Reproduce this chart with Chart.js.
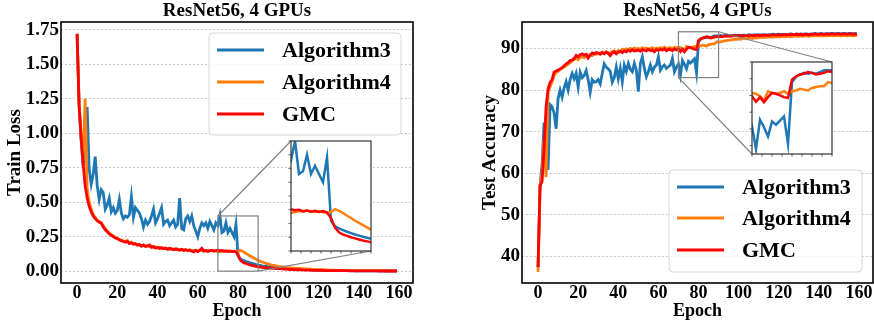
<!DOCTYPE html>
<html>
<head>
<meta charset="utf-8">
<script src="https://cdn.jsdelivr.net/npm/chart.js@4/dist/chart.umd.min.js"></script>
<style>
  html, body { margin: 0; padding: 0; background: #fff; }
  #wrap { position: relative; width: 874px; height: 322px; overflow: hidden; }
  canvas { position: absolute; }
</style>
</head>
<body>
<div id="wrap">
  <canvas id="lossChart" width="437" height="322" style="left:0;top:0"></canvas>
  <canvas id="accChart" width="437" height="322" style="left:437px;top:0"></canvas>
  <canvas id="lossInset" width="92" height="122" style="left:285px;top:135px"></canvas>
  <canvas id="accInset" width="92" height="104" style="left:746px;top:56px"></canvas>
</div>
<script>
const epochs = Array.from({ length: 160 }, (_, i) => i);
const seriesNames = ['Algorithm3', 'Algorithm4', 'GMC'];
const seriesColors = ['#1f77b4', '#ff7f0e', '#ff0000'];

const epochTicks = [0, 20, 40, 60, 80, 100, 120, 140, 160];
const lossTicks = [0, 0.25, 0.5, 0.75, 1.0, 1.25, 1.5, 1.75];
const accTicks = [40, 50, 60, 70, 80, 90];
const insetEpochTicks = [70, 72.5, 75, 77.5, 80, 82.5, 85, 87.5, 90];
const lossInsetTicks = [0, 0.05, 0.1, 0.15, 0.2, 0.25, 0.3, 0.35, 0.4];
const accInsetTicks = [84, 86, 88, 90, 92, 94];

// train loss
const lossAlg3 = [
  1.72, 1.20, 0.95, 0.76, 0.92, 1.19, 0.74, 0.63, 0.70, 0.83,
  0.62, 0.52, 0.59, 0.57, 0.45, 0.48, 0.53, 0.43, 0.46, 0.42,
  0.44, 0.52, 0.42, 0.38, 0.40, 0.39, 0.41, 0.54, 0.39, 0.46,
  0.44, 0.42, 0.38, 0.32, 0.37, 0.34, 0.36, 0.40, 0.45, 0.35,
  0.38, 0.42, 0.46, 0.34, 0.36, 0.37, 0.33, 0.35, 0.37, 0.32,
  0.34, 0.53, 0.31, 0.30, 0.38, 0.40, 0.36, 0.40, 0.33, 0.29,
  0.25, 0.31, 0.35, 0.33, 0.35, 0.31, 0.36, 0.33, 0.30, 0.35,
  0.33, 0.40, 0.28, 0.29, 0.35, 0.28, 0.31, 0.28, 0.25, 0.34,
  0.11, 0.090, 0.082, 0.076, 0.070, 0.065, 0.060, 0.056, 0.052, 0.048,
  0.044, 0.041, 0.038, 0.036, 0.034, 0.032, 0.030, 0.028, 0.027, 0.025,
  0.024, 0.023, 0.022, 0.021, 0.020, 0.019, 0.018, 0.017, 0.016, 0.015,
  0.014, 0.013, 0.013, 0.012, 0.011, 0.011, 0.010, 0.009, 0.009, 0.008,
  0.008, 0.007, 0.007, 0.006, 0.006, 0.005, 0.005, 0.005, 0.004, 0.004,
  0.004, 0.004, 0.003, 0.003, 0.003, 0.003, 0.003, 0.003, 0.002, 0.002,
  0.002, 0.002, 0.002, 0.002, 0.002, 0.002, 0.002, 0.002, 0.002, 0.002,
  0.002, 0.002, 0.002, 0.001, 0.001, 0.001, 0.001, 0.001, 0.001, 0.001
];
const lossAlg4 = [
  1.72, 1.22, 0.98, 0.80, 1.25, 0.60, 0.50, 0.45, 0.41, 0.39,
  0.37, 0.36, 0.345, 0.33, 0.31, 0.29, 0.275, 0.265, 0.255, 0.245,
  0.24, 0.23, 0.225, 0.22, 0.215, 0.222, 0.205, 0.21, 0.20, 0.198,
  0.19, 0.195, 0.185, 0.19, 0.182, 0.186, 0.178, 0.18, 0.172, 0.175,
  0.168, 0.172, 0.165, 0.168, 0.162, 0.165, 0.158, 0.163, 0.16, 0.157,
  0.16, 0.155, 0.158, 0.152, 0.156, 0.15, 0.154, 0.15, 0.148, 0.152,
  0.146, 0.15, 0.148, 0.152, 0.146, 0.15, 0.147, 0.15, 0.145, 0.148,
  0.138, 0.142, 0.145, 0.143, 0.147, 0.144, 0.142, 0.145, 0.141, 0.14,
  0.142, 0.152, 0.146, 0.138, 0.128, 0.12, 0.11, 0.102, 0.094, 0.086,
  0.078, 0.072, 0.066, 0.061, 0.056, 0.052, 0.048, 0.044, 0.041, 0.038,
  0.035, 0.033, 0.031, 0.029, 0.027, 0.026, 0.024, 0.023, 0.022, 0.021,
  0.020, 0.019, 0.018, 0.017, 0.016, 0.015, 0.014, 0.013, 0.012, 0.012,
  0.011, 0.010, 0.010, 0.009, 0.009, 0.008, 0.008, 0.007, 0.007, 0.006,
  0.006, 0.006, 0.005, 0.005, 0.005, 0.005, 0.004, 0.004, 0.004, 0.004,
  0.004, 0.003, 0.003, 0.003, 0.003, 0.003, 0.003, 0.003, 0.003, 0.003,
  0.003, 0.003, 0.003, 0.003, 0.003, 0.002, 0.002, 0.002, 0.002, 0.002
];
const lossGMC = [
  1.72, 1.20, 0.97, 0.78, 0.62, 0.53, 0.47, 0.43, 0.40, 0.38,
  0.365, 0.355, 0.35, 0.32, 0.30, 0.285, 0.27, 0.26, 0.25, 0.24,
  0.235, 0.225, 0.22, 0.215, 0.21, 0.215, 0.20, 0.205, 0.195, 0.20,
  0.188, 0.192, 0.18, 0.19, 0.178, 0.182, 0.19, 0.172, 0.178, 0.168,
  0.172, 0.165, 0.17, 0.162, 0.168, 0.158, 0.165, 0.16, 0.155, 0.162,
  0.156, 0.152, 0.158, 0.15, 0.155, 0.148, 0.153, 0.145, 0.14, 0.15,
  0.142, 0.152, 0.165, 0.145, 0.15, 0.142, 0.148, 0.152, 0.145, 0.148,
  0.152, 0.148, 0.15, 0.145, 0.147, 0.143, 0.146, 0.142, 0.145, 0.14,
  0.12, 0.085, 0.068, 0.06, 0.055, 0.05, 0.046, 0.042, 0.038, 0.035,
  0.032, 0.030, 0.028, 0.026, 0.024, 0.023, 0.022, 0.021, 0.020, 0.019,
  0.018, 0.017, 0.016, 0.015, 0.014, 0.013, 0.012, 0.012, 0.011, 0.010,
  0.010, 0.009, 0.009, 0.008, 0.008, 0.007, 0.007, 0.006, 0.006, 0.006,
  0.005, 0.005, 0.005, 0.004, 0.004, 0.004, 0.004, 0.003, 0.003, 0.003,
  0.003, 0.003, 0.003, 0.003, 0.003, 0.002, 0.002, 0.002, 0.002, 0.002,
  0.002, 0.002, 0.002, 0.002, 0.002, 0.002, 0.002, 0.002, 0.002, 0.002,
  0.001, 0.001, 0.001, 0.001, 0.001, 0.001, 0.001, 0.001, 0.001, 0.001
];

// test accuracy
const accAlg3 = [
  37.5, 57.0, 62.0, 72.2, 66.0, 60.8, 76.5, 76.0, 74.5, 70.7,
  78.0, 80.0, 78.3, 80.5, 82.0, 80.0, 82.5, 84.0, 82.7, 84.0,
  80.7, 84.3, 83.0, 83.5, 84.7, 82.5, 79.5, 82.5, 81.9, 82.0,
  82.5, 81.5, 84.0, 86.3, 85.5, 85.1, 84.5, 81.9, 83.0, 85.5,
  82.7, 85.2, 82.0, 86.0, 84.5, 86.4, 85.0, 84.4, 86.4, 84.8,
  79.6, 86.4, 88.0, 85.2, 83.2, 84.4, 86.0, 84.4, 85.5, 86.0,
  88.0, 84.8, 85.6, 86.0, 85.2, 85.6, 86.0, 87.6, 84.4, 85.5,
  86.3, 83.6, 87.1, 86.2, 85.1, 86.9, 86.5, 87.0, 87.5, 84.2,
  91.6, 92.2, 92.5, 92.7, 92.6, 92.7, 92.6, 92.8, 93.0, 93.0,
  93.0, 93.1, 93.0, 93.1, 93.2, 93.1, 93.2, 93.1, 93.2, 93.1,
  93.2, 93.1, 93.2, 93.2, 93.1, 93.3, 93.2, 93.2, 93.3, 93.2,
  93.3, 93.2, 93.3, 93.3, 93.2, 93.3, 93.3, 93.4, 93.3, 93.3,
  93.4, 93.3, 93.4, 93.4, 93.3, 93.4, 93.5, 93.4, 93.4, 93.5,
  93.4, 93.5, 93.4, 93.5, 93.5, 93.4, 93.5, 93.5, 93.6, 93.5,
  93.5, 93.6, 93.5, 93.5, 93.6, 93.5, 93.6, 93.6, 93.5, 93.6,
  93.6, 93.5, 93.6, 93.6, 93.5, 93.6, 93.6, 93.5, 93.6, 93.5
];
const accAlg4 = [
  36.3, 57.0, 60.0, 68.0, 59.1, 79.5, 80.8, 82.0, 83.5, 84.2,
  84.5, 84.9, 85.2, 85.5, 85.9, 86.2, 86.6, 87.0, 87.3, 87.6,
  87.3, 87.9, 88.0, 87.8, 88.2, 88.0, 88.5, 88.3, 88.7, 88.6,
  88.8, 88.9, 89.1, 88.8, 89.2, 89.0, 88.7, 89.3, 89.4, 89.1,
  89.5, 89.3, 89.8, 89.6, 89.9, 89.7, 90.0, 89.8, 90.1, 89.9,
  90.0, 89.8, 90.2, 89.9, 90.1, 89.7, 90.0, 90.2, 89.8, 90.1,
  89.9, 90.2, 90.0, 90.3, 89.9, 90.1, 90.2, 89.9, 90.3, 90.1,
  90.3, 90.2, 89.9, 89.4, 90.5, 90.3, 90.2, 90.3, 90.5, 90.2,
  90.5, 90.6, 90.8, 90.7, 90.6, 90.9, 91.0, 91.1, 91.1, 91.6,
  91.5, 91.6, 91.7, 91.8, 91.9, 92.0, 92.0, 92.1, 92.2, 92.2,
  92.3, 92.2, 92.4, 92.4, 92.3, 92.5, 92.5, 92.4, 92.6, 92.5,
  92.6, 92.6, 92.7, 92.6, 92.7, 92.7, 92.8, 92.7, 92.8, 92.8,
  92.8, 92.8, 92.9, 92.8, 92.9, 92.9, 92.8, 92.9, 93.0, 92.9,
  92.9, 93.0, 92.9, 93.0, 93.0, 92.9, 93.0, 93.0, 93.1, 93.0,
  93.0, 93.1, 93.0, 93.1, 93.0, 93.1, 93.1, 93.0, 93.1, 93.1,
  93.1, 93.0, 93.1, 93.1, 93.0, 93.1, 93.1, 93.0, 93.1, 93.1
];
const accGMC = [
  37.5, 57.0, 58.0, 66.0, 76.0, 80.3, 81.8, 82.5, 84.3, 84.6,
  84.8, 85.1, 85.4, 85.8, 86.3, 86.6, 87.1, 87.2, 87.6, 88.3,
  88.0, 88.5, 88.7, 88.4, 88.6, 87.7, 88.4, 88.9, 88.7, 89.0,
  88.9, 88.6, 89.0, 88.7, 89.1, 88.8, 88.3, 88.9, 89.2, 88.7,
  89.1, 89.3, 89.0, 89.4, 89.2, 89.6, 89.3, 89.7, 89.4, 89.5,
  89.6, 89.3, 89.7, 89.5, 89.4, 89.8, 89.5, 89.6, 89.2, 89.7,
  89.5, 89.8, 89.6, 89.9, 89.4, 89.8, 89.7, 89.5, 89.9, 89.6,
  89.9, 89.25, 89.8, 89.2, 89.8, 90.3, 90.2, 90.0, 89.8, 89.7,
  91.9, 92.3, 92.5, 92.6, 92.8, 92.7, 92.5, 92.6, 92.7, 92.9,
  92.8, 92.9, 92.8, 93.0, 92.9, 93.0, 92.9, 93.0, 93.1, 93.0,
  93.0, 93.1, 93.0, 93.1, 93.1, 93.0, 93.2, 93.1, 93.1, 93.2,
  93.1, 93.2, 93.1, 93.2, 93.2, 93.1, 93.2, 93.3, 93.2, 93.2,
  93.3, 93.2, 93.3, 93.3, 93.2, 93.3, 93.4, 93.3, 93.3, 93.4,
  93.3, 93.4, 93.3, 93.4, 93.4, 93.3, 93.4, 93.4, 93.5, 93.4,
  93.4, 93.5, 93.4, 93.4, 93.5, 93.4, 93.5, 93.5, 93.4, 93.5,
  93.5, 93.4, 93.5, 93.5, 93.4, 93.5, 93.5, 93.4, 93.5, 93.4
];

const serif = "'Liberation Serif', 'Times New Roman', serif";
const xTickFont = { family: serif, weight: 'bold', size: 18 };
const yTickFont = { family: serif, weight: 'bold', size: 19 };
const labelFont = { family: serif, weight: 'bold', size: 18 };
const yLabelFont = { family: serif, weight: 'bold', size: 19 };

function makeDatasets(seriesList, width) {
  return seriesList.map((d, i) => ({
    label: seriesNames[i],
    data: d,
    borderColor: seriesColors[i],
    backgroundColor: seriesColors[i],
    borderWidth: width,
    pointRadius: 0,
    tension: 0,
    order: 2 - i
  }));
}

// frame, zoom box, connector lines and legend on the main axes
function decorPlugin(cfg) {
  return {
    id: 'decor',
    afterDatasetsDraw(chart) {
      const { ctx, chartArea: a, scales } = chart;
      ctx.save();
      // zoom rectangle + connectors
      const x0 = scales.x.getPixelForValue(cfg.zoom.x[0]);
      const x1 = scales.x.getPixelForValue(cfg.zoom.x[1]);
      const y0 = scales.y.getPixelForValue(cfg.zoom.y[0]);
      const y1 = scales.y.getPixelForValue(cfg.zoom.y[1]);
      ctx.strokeStyle = '#808080';
      ctx.lineWidth = 1.2;
      ctx.strokeRect(x0, y1, x1 - x0, y0 - y1);
      const b = cfg.inset;
      const rect = { tl: [x0, y1], tr: [x1, y1], bl: [x0, y0], br: [x1, y0] };
      const box = { tl: [b.l, b.t], tr: [b.r, b.t], bl: [b.l, b.b], br: [b.r, b.b] };
      ctx.beginPath();
      cfg.links.forEach(k => {
        ctx.moveTo(rect[k][0], rect[k][1]);
        ctx.lineTo(box[k][0], box[k][1]);
      });
      ctx.stroke();
      // frame
      ctx.strokeStyle = '#000';
      ctx.lineWidth = 1.6;
      ctx.strokeRect(a.left, a.top, a.right - a.left, a.bottom - a.top);
      // legend
      const lg = cfg.legend;
      ctx.fillStyle = 'rgba(255,255,255,0.8)';
      ctx.strokeStyle = '#d6d6d6';
      ctx.lineWidth = 1;
      ctx.beginPath();
      ctx.roundRect(lg.x, lg.y, lg.w, lg.h, 4);
      ctx.fill();
      ctx.stroke();
      ctx.font = 'bold 22px ' + serif;
      ctx.textBaseline = 'alphabetic';
      ctx.textAlign = 'left';
      chart.data.datasets.forEach((ds, i) => {
        const ry = lg.rows[i];
        ctx.strokeStyle = ds.borderColor;
        ctx.lineWidth = 3;
        ctx.beginPath();
        ctx.moveTo(lg.lineX[0], ry);
        ctx.lineTo(lg.lineX[1], ry);
        ctx.stroke();
        ctx.fillStyle = '#000';
        ctx.fillText(ds.label, lg.textX, ry + 7);
      });
      ctx.restore();
    }
  };
}

function mainChart(id, seriesList, c) {
  return new Chart(document.getElementById(id).getContext('2d'), {
    type: 'line',
    data: { labels: epochs, datasets: makeDatasets(seriesList, 2.8) },
    options: {
      responsive: false,
      animation: false,
      devicePixelRatio: 1,
      layout: { padding: { left: 0, right: c.padRight, top: 0, bottom: 0 } },
      plugins: {
        legend: { display: false },
        tooltip: { enabled: false },
        title: {
          display: true, text: 'ResNet56, 4 GPUs', fullSize: false, color: '#000',
          font: { family: serif, weight: 'bold', size: 19, lineHeight: 22 / 19 },
          padding: 0
        }
      },
      scales: {
        x: {
          type: 'linear', min: -8, max: 167,
          afterFit: s => { s.height = 39; },
          afterBuildTicks: s => { s.ticks = epochTicks.map(v => ({ value: v })); },
          grid: { display: false, drawTicks: false },
          border: { display: false },
          ticks: { color: '#000', font: xTickFont, padding: 0, maxRotation: 0, autoSkip: false },
          title: { display: true, text: 'Epoch', color: '#000', font: labelFont, padding: { top: 1, bottom: 0 } }
        },
        y: {
          min: c.yMin, max: c.yMax,
          afterFit: s => { s.width = c.yWidth; },
          afterBuildTicks: s => { s.ticks = c.yTicks.map(v => ({ value: v })); },
          grid: { color: '#b8b8b8', lineWidth: 1, drawTicks: false },
          border: { display: false, dash: [1.5, 2.5] },
          ticks: { color: '#000', font: yTickFont, padding: 2, autoSkip: false, callback: c.fmt },
          title: { display: true, text: c.yTitle, color: '#000', font: yLabelFont, padding: { top: c.yTitlePad, bottom: 0 } }
        }
      }
    },
    plugins: [decorPlugin(c)]
  });
}

function insetPlugin(xTicks, yTicks) {
  return {
    id: 'insetFrame',
    beforeDatasetsDraw(chart) {
      const { ctx, chartArea: a } = chart;
      ctx.save();
      ctx.fillStyle = '#fff';
      ctx.fillRect(a.left, a.top, a.right - a.left, a.bottom - a.top);
      ctx.restore();
    },
    afterDatasetsDraw(chart) {
      const { ctx, chartArea: a, scales } = chart;
      ctx.save();
      ctx.strokeStyle = '#333';
      ctx.lineWidth = 1.2;
      ctx.strokeRect(a.left, a.top, a.right - a.left, a.bottom - a.top);
      ctx.beginPath();
      xTicks.forEach(v => {
        const px = scales.x.getPixelForValue(v);
        ctx.moveTo(px, a.bottom);
        ctx.lineTo(px, a.bottom + 2.5);
      });
      yTicks.forEach(v => {
        const py = scales.y.getPixelForValue(v);
        ctx.moveTo(a.left, py);
        ctx.lineTo(a.left - 2.5, py);
      });
      ctx.lineWidth = 0.8;
      ctx.stroke();
      ctx.restore();
    }
  };
}

function insetChart(id, seriesList, yMin, yMax, yTicks) {
  return new Chart(document.getElementById(id).getContext('2d'), {
    type: 'line',
    data: { labels: epochs, datasets: makeDatasets(seriesList, 2.5) },
    options: {
      responsive: false,
      animation: false,
      devicePixelRatio: 1,
      layout: { padding: 6 },
      plugins: { legend: { display: false }, tooltip: { enabled: false }, title: { display: false } },
      scales: {
        x: { type: 'linear', min: 70, max: 90, display: false },
        y: { min: yMin, max: yMax, display: false }
      }
    },
    plugins: [insetPlugin(insetEpochTicks, yTicks)]
  });
}

mainChart('lossChart', [lossAlg3, lossAlg4, lossGMC], {
  padRight: 24, yWidth: 61, yMin: -0.086, yMax: 1.806, yTicks: lossTicks,
  fmt: v => Number(v).toFixed(2), yTitle: 'Train Loss', yTitlePad: 3.6,
  zoom: { x: [70, 90], y: [0, 0.4] },
  inset: { l: 291, t: 141, r: 371, b: 251 },
  links: ['tl', 'br'],
  legend: { x: 209, y: 33, w: 192, h: 102, rows: [50, 82, 114], lineX: [217, 264], textX: 282 }
});

mainChart('accChart', [accAlg3, accAlg4, accGMC], {
  padRight: 1, yWidth: 85, yMin: 33.65, yMax: 96.35, yTicks: accTicks,
  fmt: v => String(v), yTitle: 'Test Accuracy', yTitlePad: 41.6,
  zoom: { x: [70, 90], y: [83, 94] },
  inset: { l: 315, t: 62, r: 395, b: 154 },
  links: ['tr', 'bl'],
  legend: { x: 232, y: 170, w: 193, h: 102, rows: [187, 218, 250], lineX: [240, 287], textX: 305 }
});

insetChart('lossInset', [lossAlg3, lossAlg4, lossGMC], 0, 0.4, lossInsetTicks);
insetChart('accInset', [accAlg3, accAlg4, accGMC], 83, 94, accInsetTicks);
</script>
</body>
</html>
